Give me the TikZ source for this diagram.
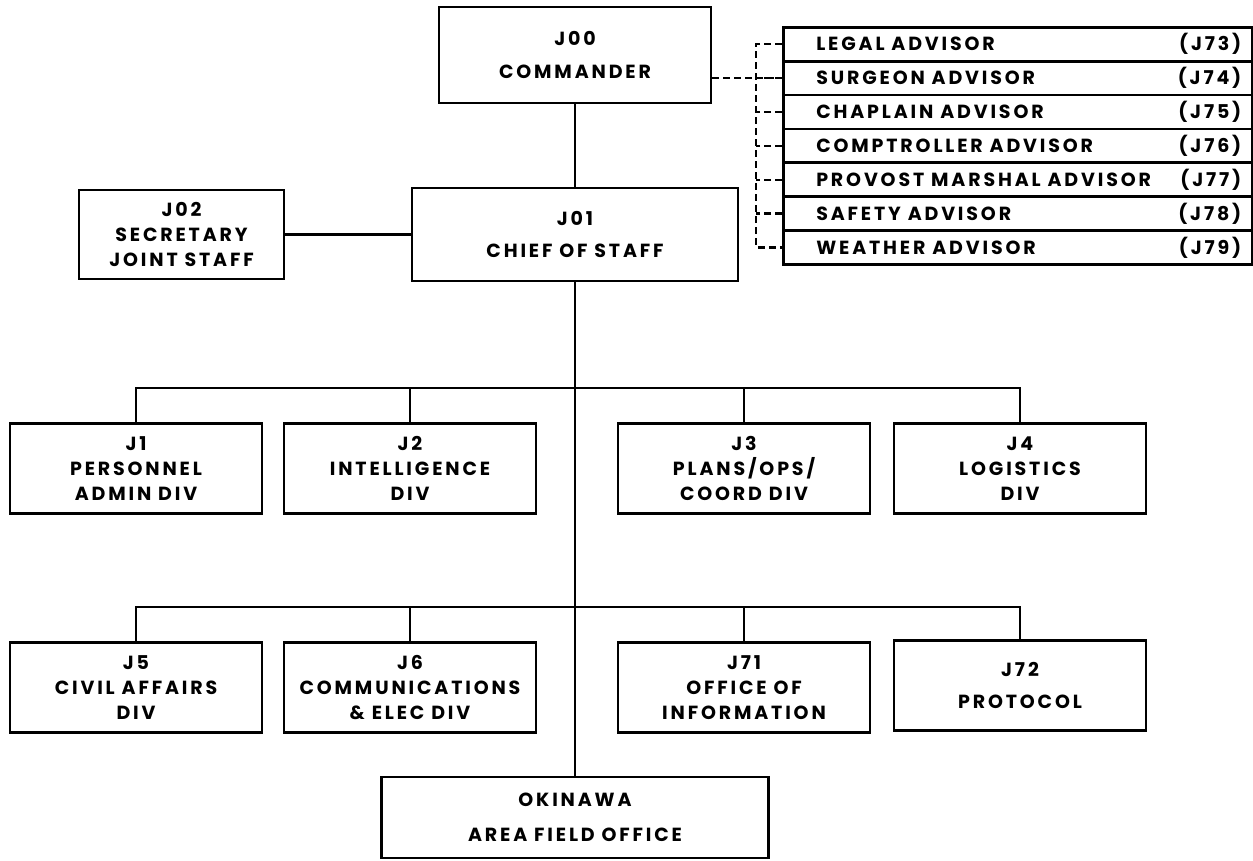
\documentclass[tikz,border=0pt]{standalone}
\usepackage{fontspec}
\newfontfamily\orgfont{Poppins}[LetterSpace=15]

\begin{document}
\begin{tikzpicture}[x=1pt,y=-1pt,
    orgbox/.style={draw,line width=2.6pt,align=center,inner sep=0pt,
      minimum width=252pt,minimum height=90pt,
      font=\orgfont\bfseries\fontsize{19}{25}\selectfont},
    advbox/.style={draw,line width=2.6pt,inner sep=0pt,anchor=north west,
      minimum width=469pt,minimum height=33.9pt,
      font=\orgfont\bfseries\fontsize{19}{20}\selectfont},
    link/.style={line width=2.4pt},
    dotlink/.style={line width=2.2pt,dash pattern=on 7pt off 4pt}]
        \pgfmathsetmacro\busA{388}
        \pgfmathsetmacro\busB{607}
        \useasboundingbox (0,0) rectangle (1253,860);
        \coordinate (busA) at (575,\busA);
        \coordinate (busB) at (575,\busB);
        % command group
        \node[orgbox,minimum width=272pt,minimum height=96pt] (cmd) at (575,55) {J00\\[8pt]COMMANDER};
        \node[orgbox,minimum width=326pt,minimum height=93pt] (cos) at (575,234.5) {J01\\[7pt]CHIEF OF STAFF};
        \node[orgbox,minimum width=205pt,minimum height=89pt] (sec) at (181.5,234.5) {J02\\SECRETARY\\JOINT STAFF};
        % advisors
        \foreach \lbl/\code [count=\i] in {LEGAL ADVISOR/J73,SURGEON ADVISOR/J74,
            CHAPLAIN ADVISOR/J75,COMPTROLLER ADVISOR/J76,PROVOST MARSHAL ADVISOR/J77,
            SAFETY ADVISOR/J78,WEATHER ADVISOR/J79}
          \node[advbox] (adv\i) at (782,{26+(\i-1)*33.86}) {\hbox to 447pt{\hspace*{22pt}\lbl\hfill(\code)}};
        % divisions
        \node[orgbox] (j1) at (136,468.5) {J1\\PERSONNEL\\ADMIN DIV};
        \node[orgbox] (j2) at (410,468.5) {J2\\INTELLIGENCE\\DIV};
        \node[orgbox] (j3) at (744,468.5) {J3\\PLANS/OPS/\\COORD DIV};
        \node[orgbox] (j4) at (1020,468.5) {J4\\LOGISTICS\\DIV};
        \node[orgbox] (j5) at (136,687.5) {J5\\CIVIL AFFAIRS\\DIV};
        \node[orgbox] (j6) at (410,687.5) {J6\\COMMUNICATIONS\\\& ELEC DIV};
        \node[orgbox] (j71) at (744,687.5) {J71\\OFFICE OF\\INFORMATION};
        \node[orgbox] (j72) at (1020,685.5) {J72\\[7pt]PROTOCOL};
        \node[orgbox,minimum width=387pt,minimum height=81pt] (oki) at (575,817.5) {OKINAWA\\[10pt]AREA FIELD OFFICE};
        % lines
        \draw[link] (cmd) -- (cos);
        \draw[link] (sec) -- (cos);
        \draw[link] (cos) -- (oki);
        \draw[link] (j1.north) |- (busA) -| (j4.north);
        \draw[link] (j2.north) -- (j2.north |- busA);
        \draw[link] (j3.north) -- (j3.north |- busA);
        \draw[link] (j5.north) |- (busB) -| (j72.north);
        \draw[link] (j6.north) -- (j6.north |- busB);
        \draw[link] (j71.north) -- (j71.north |- busB);
        % advisor bracket
        \draw[dotlink] (adv1.west) -- ++(-26,0) |- (adv7.west);
        \foreach \i in {2,...,6}
          \draw[dotlink] (adv\i.west) -- ++(-26,0);
        \draw[dotlink] (cmd.east |- adv2.west) -- (adv2.west);
\end{tikzpicture}
\end{document}
